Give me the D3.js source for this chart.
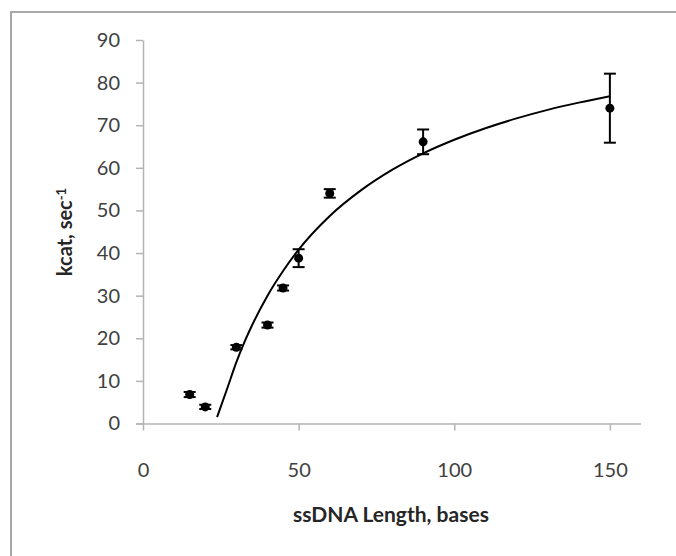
<!DOCTYPE html>
<html>
<head>
<meta charset="utf-8">
<title>kcat vs ssDNA length</title>
<style>
  body, html { margin: 0; padding: 0; background: #fff; }
  svg { display: block; font-family: Lato, "Open Sans", sans-serif; }
</style>
</head>
<body>
<svg id="svg" width="676" height="556"></svg>
<script src="https://d3js.org/d3.v7.min.js"></script>
<script>
// measured points
const lengths = [15, 20, 30, 40, 45, 50, 60, 90, 150]
const kcat = [6.8, 3.9, 17.9, 23.1, 31.8, 38.8, 54.0, 66.1, 74.0]
const kcatErr = [0.6, 0.5, 0.5, 0.6, 0.6, 2.1, 1.0, 2.9, 8.1]

// trend line
const fitX = [23.8, 27, 30, 33, 35, 40, 45, 50, 60, 70, 80, 90, 100, 110, 120, 130, 140, 150]
const fitY = [1.5, 8.1, 14.4, 19.8, 23.0, 30.0, 35.8, 40.8, 48.7, 54.7, 59.5, 63.4, 66.6, 69.3, 71.6, 73.6, 75.3, 76.8]

const xTicks = [0, 50, 100, 150]
const yTicks = [0, 10, 20, 30, 40, 50, 60, 70, 80, 90]

const svg = d3.select('#svg')

// outer frame
svg.append('path')
  .attr('d', 'M11,556 V12 H676')
  .attr('fill', 'none')
  .attr('stroke', '#a8a8a8')
  .attr('stroke-width', 2)

const x = d3.scaleLinear().domain([0, 160]).range([143, 641])
const y = d3.scaleLinear().domain([0, 90]).range([423.5, 40])

const xAxis = svg.append('g')
  .attr('transform', `translate(0, ${y(0)})`)
  .call(d3.axisBottom(x).tickValues(xTicks).tickSize(7).tickPadding(40).tickSizeOuter(0))
xAxis.select('.domain').attr('d', `M${x(0) - 7},0.5H${x(160)}`)

const yAxis = svg.append('g')
  .attr('transform', `translate(${x(0)}, 0)`)
  .call(d3.axisLeft(y).tickValues(yTicks).tickSize(7).tickPadding(16).tickSizeOuter(0))

svg.selectAll('.domain, .tick line').attr('stroke', '#b4b4b4').attr('stroke-width', 1.5)
svg.selectAll('.tick text')
  .attr('fill', '#404040')
  .style('font-size', '20px')
  .style('font-family', 'Lato, "Open Sans", sans-serif')
xAxis.selectAll('.tick text').attr('dy', '0.32em')

// trend line
const fit = fitX.map((v, i) => [v, fitY[i]])
svg.append('path')
  .datum(fit)
  .attr('fill', 'none')
  .attr('stroke', '#000')
  .attr('stroke-width', 2)
  .attr('d', d3.line().x(d => x(d[0])).y(d => y(d[1])).curve(d3.curveMonotoneX))

// error bars
const pts = lengths.map((v, i) => ({ x: v, y: kcat[i], e: kcatErr[i] }))
const bars = svg.append('g').attr('stroke', '#000').attr('stroke-width', 2)
pts.forEach(d => {
  bars.append('line')
    .attr('x1', x(d.x)).attr('x2', x(d.x))
    .attr('y1', y(d.y + d.e)).attr('y2', y(d.y - d.e))
  bars.append('line')
    .attr('x1', x(d.x) - 6).attr('x2', x(d.x) + 6)
    .attr('y1', y(d.y + d.e)).attr('y2', y(d.y + d.e))
  bars.append('line')
    .attr('x1', x(d.x) - 6).attr('x2', x(d.x) + 6)
    .attr('y1', y(d.y - d.e)).attr('y2', y(d.y - d.e))
})

// markers
svg.append('g')
  .selectAll('circle')
  .data(pts)
  .enter()
  .append('circle')
  .attr('cx', d => x(d.x))
  .attr('cy', d => y(d.y))
  .attr('r', 4.5)
  .attr('fill', '#000')

// axis titles
svg.append('text')
  .attr('x', 391)
  .attr('y', 522)
  .attr('text-anchor', 'middle')
  .attr('fill', '#262626')
  .style('font-size', '21px')
  .style('font-weight', 700)
  .text('ssDNA Length, bases')

const yt = svg.append('text')
  .attr('transform', 'translate(72, 232) rotate(-90)')
  .attr('text-anchor', 'middle')
  .attr('fill', '#262626')
  .style('font-size', '20px')
  .style('font-weight', 700)
yt.append('tspan').text('kcat,  sec')
yt.append('tspan').attr('dy', '-0.5em').style('font-size', '13px').text('-1')
</script>
</body>
</html>
